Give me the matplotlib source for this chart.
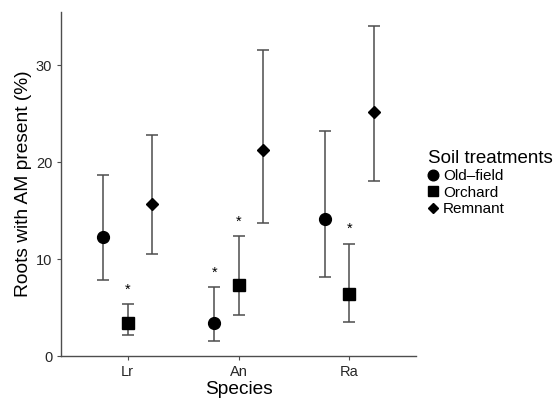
import matplotlib
matplotlib.use("Agg")
import matplotlib.pyplot as plt
from matplotlib.lines import Line2D

plt.rcParams['font.family'] = ['Liberation Sans', 'DejaVu Sans']

species = ['Lr', 'An', 'Ra']
treatments = ['Old\u2013field', 'Orchard', 'Remnant']
markers = ['o', 's', 'D']
marker_sizes = [8.5, 8, 6.2]

# mean, lower and upper bound for each treatment (rows) and species (cols)
means = [[12.3, 3.4, 14.1],
         [3.45, 7.3, 6.45],
         [15.7, 21.3, 25.2]]
lower = [[7.9, 1.6, 8.2],
         [2.2, 4.2, 3.5],
         [10.5, 13.7, 18.1]]
upper = [[18.7, 7.1, 23.2],
         [5.4, 12.35, 11.6],
         [22.8, 31.6, 34.0]]

# significance stars: (treatment index, species index, y)
stars = [(1, 0, 6.8), (0, 1, 8.6), (1, 1, 13.9), (1, 2, 13.1)]

dodge = [-0.22, 0.0, 0.22]

fig = plt.figure(figsize=(5.56, 3.98), dpi=100)
ax = fig.add_axes([0.11, 0.105, 0.638, 0.865])

for t in range(3):
    xs = [i + 1 + dodge[t] for i in range(3)]
    yerr = [[means[t][i] - lower[t][i] for i in range(3)],
            [upper[t][i] - means[t][i] for i in range(3)]]
    ax.errorbar(xs, means[t], yerr=yerr, fmt='none', ecolor='#4d4d4d',
                elinewidth=1.1, capsize=4.5, capthick=1.1, zorder=2)
    ax.plot(xs, means[t], linestyle='none', marker=markers[t],
            markersize=marker_sizes[t], color='black', zorder=3)

for t, i, y in stars:
    ax.text(i + 1 + dodge[t], y, '*', ha='center', va='center', fontsize=10.5)

ax.set_xlim(0.4, 3.6)
ax.set_ylim(0, 35.5)
ax.set_xticks([1, 2, 3])
ax.set_xticklabels(species)
ax.set_yticks([0, 10, 20, 30])
ax.tick_params(colors='#4d4d4d', labelsize=10.5, length=3, width=0.8)
for lab in ax.get_xticklabels() + ax.get_yticklabels():
    lab.set_color('#262626')
ax.spines['top'].set_visible(False)
ax.spines['right'].set_visible(False)
for s in ['left', 'bottom']:
    ax.spines[s].set_color('#4d4d4d')
    ax.spines[s].set_linewidth(1.0)
ax.set_xlabel('Species', fontsize=13.8, labelpad=1)
ax.set_ylabel('Roots with AM present (%)', fontsize=13.8, labelpad=3)

handles = [Line2D([], [], linestyle='none', marker=markers[t],
                  markersize=marker_sizes[t] * 0.9, color='black')
           for t in range(3)]
leg = fig.legend(handles, treatments, title='Soil treatments',
                 loc='center left', bbox_to_anchor=(0.75, 0.54),
                 frameon=False, fontsize=11, title_fontsize=13.5,
                 handlelength=0.7, handletextpad=0.3, labelspacing=0.15,
                 borderpad=0.2)
leg._legend_box.align = 'left'

fig.savefig('out.png', dpi=100)
